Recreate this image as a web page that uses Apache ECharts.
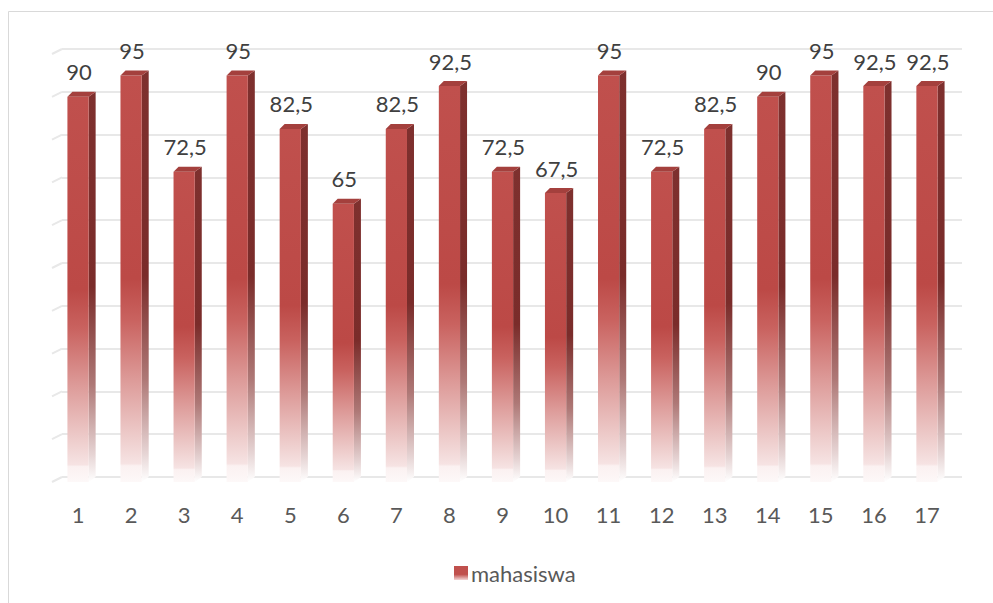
<!DOCTYPE html>
<html>
<head>
<meta charset="utf-8">
<script src="https://cdn.jsdelivr.net/npm/echarts@6/dist/echarts.min.js"></script>
<style>
html,body{margin:0;padding:0;background:#fff;}
#chart{width:993px;height:603px;}
</style>
</head>
<body>
<div id="chart"></div>
<script>
// ---- data ----
const categories = ['1','2','3','4','5','6','7','8','9','10','11','12','13','14','15','16','17'];
const seriesName = 'mahasiswa';
const values = [90, 95, 72.5, 95, 82.5, 65, 82.5, 92.5, 72.5, 67.5, 95, 72.5, 82.5, 90, 95, 92.5, 92.5];
const gridTicks = [0, 10, 20, 30, 40, 50, 60, 70, 80, 90, 100];

const FONT = 'Lato, "Open Sans", sans-serif';
const G = echarts.graphic;

const frontGrad = new G.LinearGradient(0, 0, 0, 1, [
  {offset: 0, color: '#C0504D'},
  {offset: 0.5, color: '#BC4946'},
  {offset: 0.6, color: '#C9625F'},
  {offset: 0.75, color: '#DD9B99'},
  {offset: 0.9, color: '#EFD0CF'},
  {offset: 0.955, color: '#F6E3E3'},
  {offset: 0.96, color: '#FBF1F1'},
  {offset: 1, color: '#FDF8F8'}
]);
const sideGrad = new G.LinearGradient(0, 0, 0, 1, [
  {offset: 0, color: '#7E302E'},
  {offset: 0.5, color: '#7A2C2A'},
  {offset: 0.75, color: '#AE7876'},
  {offset: 0.93, color: '#E6D4D4'},
  {offset: 1, color: '#FFFFFF'}
]);
const legendGrad = new G.LinearGradient(0, 0, 0, 1, [
  {offset: 0, color: '#C0504D'},
  {offset: 0.6, color: '#C0504D'},
  {offset: 1, color: '#F3D6D6'}
]);

const DX = 7, DY = -5;

function renderBar(params, api) {
  const idx = api.value(0);
  const val = api.value(1);
  const top = api.coord([idx, val]);
  const base = api.coord([idx, 0]);
  const cw = api.size([1, 0])[0];
  const w = cw * 0.4;
  const x0 = top[0] - w / 2, x1 = top[0] + w / 2;
  const y0 = top[1], y1 = base[1];
  const label = String(values[params.dataIndex]).replace('.', ',');
  return {
    type: 'group',
    children: [
      {type: 'polygon', shape: {points: [[x1, y0], [x1 + DX, y0 + DY], [x1 + DX, y1 + DY], [x1, y1]]},
        style: {fill: sideGrad}},
      {type: 'rect', shape: {x: x0, y: y0, width: w, height: y1 - y0},
        style: {fill: frontGrad}},
      {type: 'polygon', shape: {points: [[x0, y0], [x1, y0], [x1 + DX, y0 + DY], [x0 + DX - 2, y0 + DY]]},
        style: {fill: '#A4403D'}},
      {type: 'text', x: top[0] + 1, y: y0 - 25,
        style: {text: label, fill: '#404040', font: '22px ' + FONT, align: 'center', verticalAlign: 'middle'}}
    ]
  };
}

function renderWall(params, api) {
  const p = api.coord([0, api.value(0)]);
  return {
    type: 'line',
    shape: {x1: p[0] - 10, y1: p[1] + 5, x2: p[0], y2: p[1]},
    style: {stroke: '#E8E8E8', lineWidth: 2}
  };
}

const chart = echarts.init(document.getElementById('chart'), null, {renderer: 'svg'});
chart.setOption({
  backgroundColor: '#ffffff',
  animation: false,
  textStyle: {fontFamily: FONT},
  graphic: [{
    type: 'rect', shape: {x: 8.5, y: 11.5, width: 1100, height: 700},
    style: {fill: 'none', stroke: '#D9D9D9', lineWidth: 1}, silent: true, z: -10
  }],
  grid: [
    {left: 62, right: 31, top: 49, height: 428},
    {left: 51.5, width: 902, top: 54, height: 428}
  ],
  xAxis: [
    {gridIndex: 0, type: 'value', min: 0, max: 1, show: false},
    {gridIndex: 1, type: 'category', data: categories,
      axisLine: {show: false}, axisTick: {show: false},
      axisLabel: {color: '#595959', fontSize: 22, fontFamily: FONT, margin: 21}}
  ],
  yAxis: [
    {gridIndex: 0, type: 'value', min: 0, max: 100, interval: 10,
      axisLabel: {show: false}, axisLine: {show: false}, axisTick: {show: false},
      splitLine: {show: true, lineStyle: {color: '#E8E8E8', width: 2}}},
    {gridIndex: 1, type: 'value', min: 0, max: 100, interval: 10, show: false,
      splitLine: {show: false}}
  ],
  legend: {
    data: [{name: seriesName, icon: 'rect'}],
    left: 449, top: 557,
    itemWidth: 14, itemHeight: 14, itemGap: 10,
    textStyle: {color: '#595959', fontSize: 22, fontFamily: FONT, padding: [0, 0, 0, -2]}
  },
  series: [
    {
      type: 'custom', name: 'walls', xAxisIndex: 0, yAxisIndex: 0, z: 1, silent: true,
      renderItem: renderWall,
      data: gridTicks.map(t => [t]),
      encode: {y: 0}
    },
    {
      type: 'custom', name: seriesName, xAxisIndex: 1, yAxisIndex: 1, z: 2, clip: false,
      itemStyle: {color: legendGrad},
      renderItem: renderBar,
      data: values.map((v, i) => [i, v]),
      encode: {x: 0, y: 1}
    }
  ]
});
</script>
</body>
</html>
